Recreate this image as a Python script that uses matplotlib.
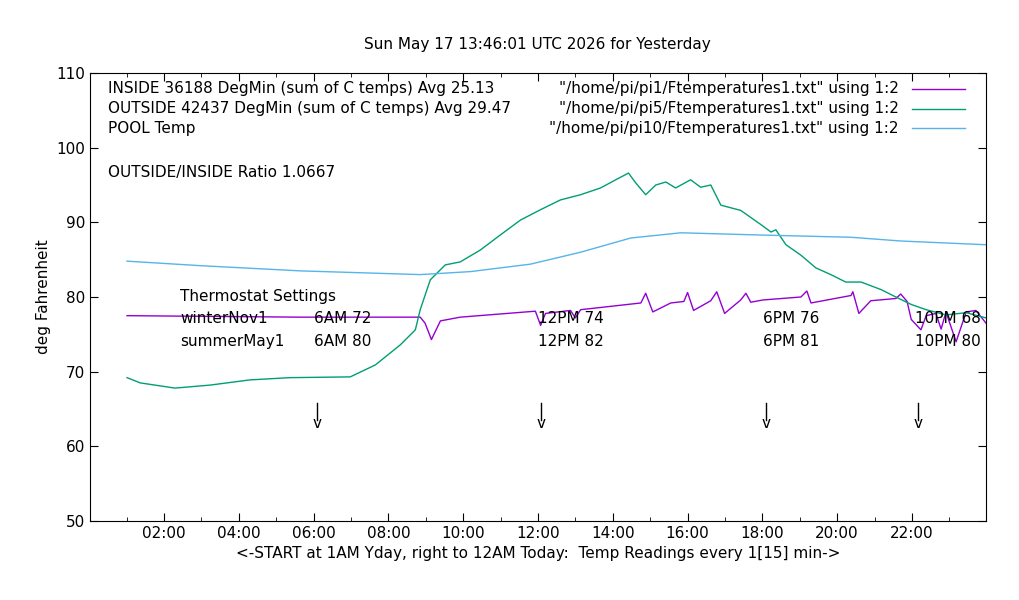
import matplotlib
matplotlib.use("Agg")
import matplotlib.pyplot as plt
from matplotlib.ticker import MultipleLocator, FuncFormatter

# readings as (hour of day, deg F)
outside_h = [1.01, 1.36, 2.29, 3.23, 4.30, 5.37, 6.98, 7.65, 8.32, 8.72, 8.85, 9.12, 9.52, 9.92,
             10.46, 10.99, 11.53, 12.07, 12.60, 13.14, 13.67, 14.08, 14.42, 14.61, 14.88, 15.15,
             15.42, 15.68, 16.08, 16.35, 16.62, 16.89, 17.42, 17.96, 18.23, 18.36, 18.63, 19.03,
             19.43, 19.83, 20.23, 20.64, 21.17, 21.57, 21.98, 22.38, 22.91, 23.45, 23.98]
outside_f = [69.2, 68.5, 67.8, 68.2, 68.9, 69.2, 69.3, 70.9, 73.6, 75.6, 78.3, 82.3, 84.3, 84.7,
             86.3, 88.3, 90.3, 91.7, 93.0, 93.7, 94.6, 95.7, 96.6, 95.3, 93.7, 95.0,
             95.4, 94.6, 95.7, 94.7, 95.0, 92.3, 91.6, 89.7, 88.7, 89.0, 87.0, 85.6,
             83.9, 83.0, 82.0, 82.0, 81.0, 80.0, 79.0, 78.3, 77.6, 77.9, 77.2]

inside_h = [1.01, 5.64, 8.85, 8.98, 9.15, 9.39, 9.92, 11.93, 12.07, 12.20, 12.87, 13.00, 13.14,
            14.75, 14.88, 15.07, 15.55, 15.90, 16.00, 16.16, 16.62, 16.78, 16.99, 17.42, 17.56,
            17.69, 18.01, 19.03, 19.19, 19.30, 20.37, 20.42, 20.58, 20.90, 21.57, 21.70, 21.87,
            21.98, 22.24, 22.38, 22.64, 22.78, 22.91, 23.18, 23.45, 23.71, 23.98]
inside_f = [77.5, 77.3, 77.3, 76.5, 74.3, 76.8, 77.3, 78.1, 76.2, 77.8, 78.2, 77.2, 78.3,
            79.2, 80.5, 78.0, 79.2, 79.4, 80.6, 78.2, 79.5, 80.7, 77.8, 79.6, 80.5,
            79.3, 79.6, 80.0, 80.8, 79.2, 80.2, 80.7, 77.8, 79.5, 79.8, 80.4, 79.4,
            77.0, 75.6, 77.5, 77.8, 75.7, 78.0, 74.0, 78.0, 78.2, 76.5]

pool_h = [1.01, 2.96, 5.64, 8.85, 10.19, 11.80, 13.14, 14.48, 15.82, 17.96, 20.37, 21.70, 23.98]
pool_f = [84.8, 84.2, 83.5, 83.0, 83.4, 84.4, 86.0, 87.9, 88.6, 88.3, 88.0, 87.5, 87.0]

arrow_h = [6.10, 12.09, 18.09, 22.16]
setting_cols = [6.02, 12.01, 18.01, 22.08]
winter = ["6AM 72", "12PM 74", "6PM 76", "10PM 68"]
summer = ["6AM 80", "12PM 82", "6PM 81", "10PM 80"]

fig = plt.figure(figsize=(10.2, 6), dpi=100)
ax = fig.add_axes([90 / 1020, 79 / 600, 896 / 1020, 448 / 600])
ax.plot(inside_h, inside_f, color="#9400d3", lw=1)
ax.plot(outside_h, outside_f, color="#009e73", lw=1)
ax.plot(pool_h, pool_f, color="#56b4e9", lw=1)

ax.set_xlim(0.02, 23.98)
ax.set_ylim(50, 110)
ax.xaxis.set_major_locator(MultipleLocator(2))
ax.xaxis.set_minor_locator(MultipleLocator(1))
ax.xaxis.set_major_formatter(FuncFormatter(lambda v, p: "%02d:00" % int(round(v))))
ax.yaxis.set_major_locator(MultipleLocator(10))
ax.tick_params(which="both", direction="in", top=True, right=True, labelsize=11)
ax.tick_params(which="major", length=6)
ax.tick_params(which="minor", length=3)
ax.set_xlabel("<-START at 1AM Yday, right to 12AM Today:  Temp Readings every 1[15] min->", fontsize=11)
ax.set_ylabel("deg Fahrenheit", fontsize=11)

def fx(px):
    return px / 1020

def fy(py):
    return 1 - py / 600

fig.text(fx(537), fy(44), "Sun May 17 13:46:01 UTC 2026 for Yesterday", ha="center", va="center", fontsize=11)
legend = [("INSIDE 36188 DegMin (sum of C temps) Avg 25.13", '"/home/pi/pi1/Ftemperatures1.txt" using 1:2', "#9400d3"),
          ("OUTSIDE 42437 DegMin (sum of C temps) Avg 29.47", '"/home/pi/pi5/Ftemperatures1.txt" using 1:2', "#009e73"),
          ("POOL Temp", '"/home/pi/pi10/Ftemperatures1.txt" using 1:2', "#56b4e9")]
for i, (lbl, src, col) in enumerate(legend):
    y = 89 + i * 19.5
    fig.text(fx(108), fy(y), lbl, va="center", fontsize=11)
    fig.text(fx(899), fy(y), src, va="center", ha="right", fontsize=11)
    fig.add_artist(plt.Line2D([fx(912), fx(965)], [fy(y), fy(y)], color=col, lw=1))
fig.text(fx(108), fy(172), "OUTSIDE/INSIDE Ratio 1.0667", va="center", fontsize=11)

ax.text(2.43, 80.0, "Thermostat Settings", va="center", fontsize=11)
ax.text(2.43, 77.1, "winterNov1", va="center", fontsize=11)
ax.text(2.43, 74.0, "summerMay1", va="center", fontsize=11)
for h, w, s in zip(setting_cols, winter, summer):
    ax.text(h, 77.1, w, va="center", fontsize=11)
    ax.text(h, 74.0, s, va="center", fontsize=11)
for h in arrow_h:
    ax.plot([h, h], [65.8, 63.5], color="black", lw=1)
    ax.text(h, 63.0, "v", ha="center", va="center", fontsize=11)

fig.savefig("out.png")
